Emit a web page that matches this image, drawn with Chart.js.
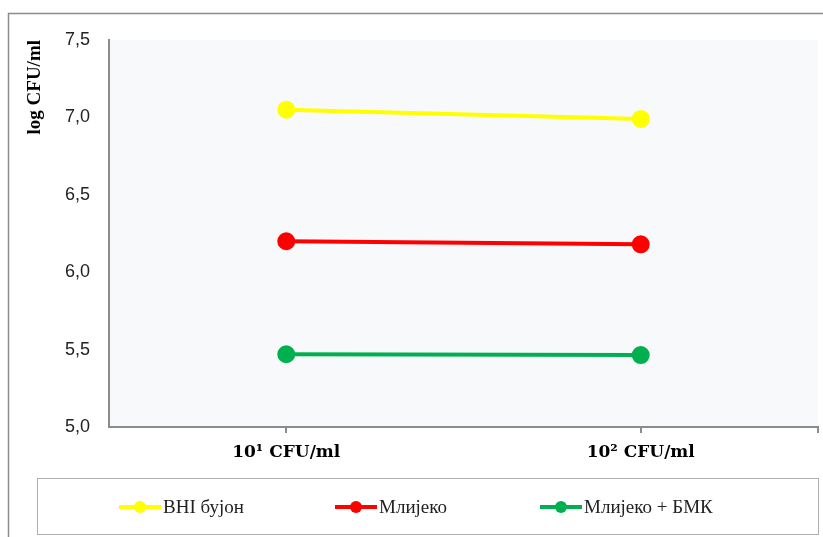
<!DOCTYPE html>
<html>
<head>
<meta charset="utf-8">
<script src="https://cdn.jsdelivr.net/npm/chart.js@4"></script>
<style>
  html, body { margin: 0; padding: 0; background: #fff; }
  #wrap { width: 823px; height: 537px; position: relative; }
</style>
</head>
<body>
<div id="wrap"><canvas id="chart"></canvas></div>
<script>
// categories and series
var categories = ['10\u00b9 CFU/ml', '10\u00b2 CFU/ml'];
var bhiValues = [7.05, 6.99];
var mlijekoValues = [6.20, 6.18];
var mlijekoBmkValues = [5.47, 5.465];
var seriesNames = ['ВНІ бујон', 'Млијеко', 'Млијеко + БМК'];
var seriesColors = ['#ffff00', '#ff0000', '#00b050'];
var yTicks = [5.0, 5.5, 6.0, 6.5, 7.0, 7.5];

function makeSet(i, values) {
  return {
    label: seriesNames[i],
    data: values,
    borderColor: seriesColors[i],
    backgroundColor: seriesColors[i],
    borderWidth: 4,
    pointRadius: 7,
    pointHoverRadius: 7,
    tension: 0
  };
}

// outer frame, plot background and legend box
var decor = {
  id: 'decor',
  beforeDraw: function(chart) {
    var ctx = chart.ctx, a = chart.chartArea;
    ctx.save();
    ctx.strokeStyle = '#8c8c8c';
    ctx.lineWidth = 1.5;
    ctx.strokeRect(8.5, 13.5, 830, 540);
    ctx.fillStyle = '#f8f9fb';
    ctx.fillRect(a.left, a.top, a.right - a.left, a.bottom - a.top);
    ctx.restore();
  },
  afterDraw: function(chart) {
    var ctx = chart.ctx;
    ctx.save();
    // legend box
    ctx.strokeStyle = '#b0b0b0';
    ctx.lineWidth = 1;
    ctx.strokeRect(37.5, 478.5, 781, 56);
    // tick at the right end of the x axis
    var a = chart.chartArea;
    ctx.strokeStyle = '#8c8c8c';
    ctx.lineWidth = 2;
    ctx.beginPath();
    ctx.moveTo(a.right, a.bottom);
    ctx.lineTo(a.right, a.bottom + 6);
    ctx.stroke();
    // legend items
    var starts = [119, 335, 540];
    ctx.font = '19px "Liberation Serif", serif';
    ctx.textBaseline = 'middle';
    chart.data.datasets.forEach(function(ds, i) {
      var x = starts[i], y = 507;
      ctx.strokeStyle = ds.borderColor;
      ctx.lineWidth = 4;
      ctx.beginPath();
      ctx.moveTo(x, y);
      ctx.lineTo(x + 42, y);
      ctx.stroke();
      ctx.fillStyle = ds.borderColor;
      ctx.beginPath();
      ctx.arc(x + 21, y, 6, 0, Math.PI * 2);
      ctx.fill();
      ctx.fillStyle = '#222';
      ctx.fillText(ds.label, x + 44, y + 1);
    });
    ctx.restore();
  }
};

var config = {
  type: 'line',
  data: {
    labels: categories,
    datasets: [
      makeSet(0, bhiValues),
      makeSet(1, mlijekoValues),
      makeSet(2, mlijekoBmkValues)
    ]
  },
  options: {
    responsive: true,
    maintainAspectRatio: false,
    animation: false,
    layout: { autoPadding: false, padding: { left: 0, top: 40, right: 5, bottom: 60 } },
    plugins: {
      legend: { display: false },
      tooltip: { enabled: false }
    },
    scales: {
      x: {
        offset: true,
        afterFit: function(s) { s.height = 50; s.paddingLeft = 0; s.paddingRight = 0; },
        border: { display: true, color: '#8c8c8c', width: 2 },
        grid: { offset: false, drawOnChartArea: false, drawTicks: true, tickLength: 6, color: '#8c8c8c', lineWidth: 2 },
        ticks: {
          color: '#000',
          padding: 9,
          font: { family: '"DejaVu Serif", serif', size: 17, weight: 'bold' }
        }
      },
      y: {
        min: 5,
        max: 7.5,
        afterFit: function(s) { s.width = 109; },
        afterBuildTicks: function(s) { s.ticks = yTicks.map(function(v) { return { value: v }; }); },
        border: { display: true, color: '#8c8c8c', width: 2 },
        grid: { display: false, drawTicks: false },
        ticks: {
          color: '#222',
          padding: 19,
          font: { family: '"Liberation Sans", Arial, sans-serif', size: 18 },
          callback: function(v) { return v.toFixed(1).replace('.', ','); }
        },
        title: {
          display: true,
          text: 'log CFU/ml',
          align: 'end',
          color: '#000',
          padding: { top: 24, bottom: 0 },
          font: { family: '"Liberation Serif", serif', size: 19, weight: 'bold' }
        }
      }
    }
  },
  plugins: [decor]
};

new Chart(document.getElementById('chart'), config);
</script>
</body>
</html>
